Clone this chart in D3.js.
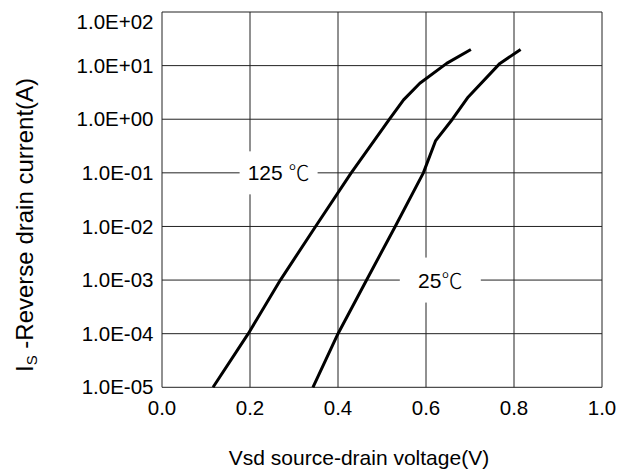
<!DOCTYPE html>
<html lang="en">
<head>
  <meta charset="UTF-8">
  <title>Reverse drain current vs source-drain voltage</title>
  <script src="https://d3js.org/d3.v7.min.js"></script>
  <style>
    body {
      margin: 0;
      background: #fff;
    }
    svg text {
      font-family: "Liberation Sans", Arial, sans-serif;
      fill: #000;
    }
    .tick-label {
      font-size: 20.5px;
    }
    .axis-title {
      font-size: 21px;
    }
    .deg {
      font-family: "Noto Sans CJK SC", "DejaVu Sans", sans-serif;
      font-weight: 300;
    }
  </style>
</head>
<body>
  <svg width="619" height="470"></svg>

  <script>
    // values
    const vsd125 = [0.116, 0.196, 0.269, 0.349, 0.430, 0.517, 0.549, 0.586, 0.647, 0.702];
    const is125  = [1e-5, 1e-4, 1e-3, 1e-2, 1e-1, 1, 2.3, 4.7, 11, 20];
    const vsd25  = [0.343, 0.400, 0.465, 0.530, 0.594, 0.622, 0.660, 0.696, 0.768, 0.815];
    const is25   = [1e-5, 1e-4, 1e-3, 1e-2, 1e-1, 0.4, 1, 2.6, 11, 20];

    const xTicks = [0, 0.2, 0.4, 0.6, 0.8, 1.0];
    const yTicks = [1e-5, 1e-4, 1e-3, 1e-2, 1e-1, 1, 10, 100];
    const yTickLabels = ["1.0E-05", "1.0E-04", "1.0E-03", "1.0E-02", "1.0E-01", "1.0E+00", "1.0E+01", "1.0E+02"];

    const svg = d3.select("svg"),
          margin = {top: 12, left: 162},
          width = 440,
          height = 375.3;

    const g = svg.append("g")
                 .attr("transform", `translate(${margin.left},${margin.top})`);

    const x = d3.scaleLinear().domain([0, 1]).range([0, width]);
    const y = d3.scaleLog().domain([1e-5, 100]).range([height, 0]);

    // grid
    g.selectAll(".vgrid")
      .data(xTicks)
      .enter()
      .append("line")
        .attr("x1", d => x(d)).attr("x2", d => x(d))
        .attr("y1", 0).attr("y2", height)
        .attr("stroke", "#222")
        .attr("stroke-width", 1);

    g.selectAll(".hgrid")
      .data(yTicks)
      .enter()
      .append("line")
        .attr("x1", 0).attr("x2", width)
        .attr("y1", d => y(d)).attr("y2", d => y(d))
        .attr("stroke", "#222")
        .attr("stroke-width", 1);

    // tick labels
    g.selectAll(".xlab")
      .data(xTicks)
      .enter()
      .append("text")
        .attr("class", "tick-label")
        .attr("x", d => x(d))
        .attr("y", height + 28)
        .attr("text-anchor", "middle")
        .text(d => d3.format(".1f")(d));

    g.selectAll(".ylab")
      .data(yTicks)
      .enter()
      .append("text")
        .attr("class", "tick-label")
        .attr("x", -8.5)
        .attr("y", d => Math.max(y(d), 10))
        .attr("dy", "0.35em")
        .attr("text-anchor", "end")
        .text((d, i) => yTickLabels[i]);

    // label boxes (white, cut the grid)
    function tempLabel(cx, cy, w, h, num, spaced) {
      g.append("rect")
        .attr("x", x(cx) - w / 2).attr("y", y(cy) - h / 2)
        .attr("width", w).attr("height", h)
        .attr("fill", "#fff");
      const t = g.append("text")
        .attr("class", "axis-title")
        .attr("x", x(cx))
        .attr("y", y(cy))
        .attr("dy", "0.36em")
        .attr("text-anchor", "middle");
      t.append("tspan").text(num + (spaced ? " " : ""));
      t.append("tspan").attr("class", "deg").text("℃");
    }
    tempLabel(0.265, 0.1, 78, 43, "125", true);
    tempLabel(0.6325, 1e-3, 81, 45, "25", false);

    // curves
    const line = d3.line()
      .x(d => x(d[0]))
      .y(d => y(d[1]));

    [[vsd125, is125], [vsd25, is25]].forEach(([vs, is]) => {
      g.append("path")
        .datum(vs.map((v, i) => [v, is[i]]))
        .attr("fill", "none")
        .attr("stroke", "#000")
        .attr("stroke-width", 3)
        .attr("stroke-linejoin", "round")
        .attr("d", line);
    });

    // axis titles
    svg.append("text")
       .attr("class", "axis-title")
       .attr("x", 359)
       .attr("y", 465)
       .attr("text-anchor", "middle")
       .text("Vsd source-drain voltage(V)");

    const yt = svg.append("text")
       .attr("class", "axis-title")
       .attr("font-size", "24px")
       .style("font-size", "24px")
       .attr("transform", "translate(33,372) rotate(-90)")
       .attr("text-anchor", "start");
    yt.append("tspan").text("I");
    yt.append("tspan").style("font-size", "15px").attr("dy", 4).text("S");
    yt.append("tspan").attr("dy", -4).text(" -Reverse drain current(A)");
  </script>
</body>
</html>
